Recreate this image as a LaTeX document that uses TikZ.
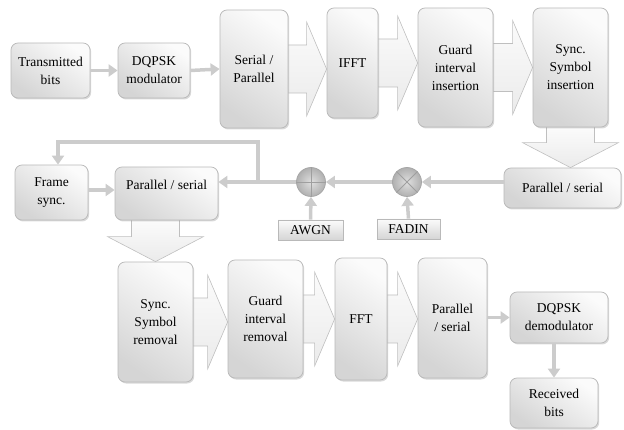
\documentclass[tikz,border=0pt]{standalone}
\usepackage{fontspec}
\setmainfont{Liberation Serif}
\usepackage{tikz}
\usetikzlibrary{calc}
\usetikzlibrary{shadows}
\usetikzlibrary{arrows.meta}
\usetikzlibrary{backgrounds}
\tikzset{every picture/.style={line width=0.75pt}}
\tikzset{
  blk/.style={draw=gray!55, rounded corners=7pt, top color=gray!3, bottom color=gray!33, shading angle=-35,
    drop shadow={opacity=0.3, shadow xshift=1.2pt, shadow yshift=-1.5pt},
    align=center, inner sep=1pt, font=\fontsize{13.5}{18}\selectfont},
  tag/.style={blk, rounded corners=0pt, shading angle=0},
  mixer/.style={circle, draw=gray!70, shading=radial, inner color=gray!25, outer color=gray!62, minimum size=29pt, inner sep=0pt},
  thinarr/.style={draw=gray!40, line width=3.5pt, -{Triangle[width=12pt,length=9pt]}},
  fatarr/.style={draw=gray!50, line width=0.6pt, top color=gray!3, bottom color=gray!16},
}
% big hollow arrows, right and down
\newcommand{\fatR}[2]{%
  \path[fatarr] let \p1=(#1), \p2=(#2) in
    (\x1,\y1+24pt) -- (\x2-20pt,\y1+24pt) -- (\x2-20pt,\y1+47pt) -- (\x2,\y1)
    -- (\x2-20pt,\y1-47pt) -- (\x2-20pt,\y1-24pt) -- (\x1,\y1-24pt) ;}
\newcommand{\fatD}[2]{%
  \path[fatarr] let \p1=(#1), \p2=(#2) in
    (\x1-24pt,\y1) -- (\x1-24pt,\y2-25pt) -- (\x1-48pt,\y2-25pt) -- (\x1,\y2)
    -- (\x1+48pt,\y2-25pt) -- (\x1+24pt,\y2-25pt) -- (\x1+24pt,\y1) ;}

\begin{document}
\begin{tikzpicture}[x=1pt,y=1pt,yscale=-1,xscale=1]
\useasboundingbox (0,0) rectangle (624,430);

%Transmitter blocks
\node [blk, minimum width=79pt, minimum height=55pt] (tb) at (50.5,70.5) {Transmitted\\bits};
\node [blk, minimum width=72pt, minimum height=55pt] (mod) at (154,70.5) {DQPSK\\modulator};
\node [blk, minimum width=68pt, minimum height=118pt] (sp) at (254,69) {Serial /\\Parallel};
\node [blk, minimum width=51pt, minimum height=110pt] (ifft) at (352.5,63) {IFFT};
\node [blk, minimum width=75pt, minimum height=119pt] (gii) at (455.5,67.5) {Guard\\interval\\insertion};
\node [blk, minimum width=75pt, minimum height=119pt] (ssi) at (570.5,67.5) {Sync.\\Symbol\\insertion};

%Channel
\node [blk, minimum width=117pt, minimum height=40pt] (psr) at (562.5,188) {Parallel / serial};
\node [mixer] (mul) at (407,182) {};
\node [mixer] (add) at (311,182) {};
\node [tag, minimum width=63pt, minimum height=20pt] (fadin) at (408.5,229) {FADIN};
\node [tag, minimum width=65pt, minimum height=20pt] (awgn) at (310.5,230) {AWGN};
\draw [gray!75] (mul.north west) -- (mul.south east) (mul.north east) -- (mul.south west) ;
\draw [gray!75] (add.north) -- (add.south) (add.west) -- (add.east) ;

%Receiver blocks
\node [blk, minimum width=103pt, minimum height=53pt, text depth=18pt] (psl) at (166.5,193.5) {Parallel / serial};
\node [blk, minimum width=73pt, minimum height=55pt] (fs) at (51.5,192.5) {Frame\\sync.};
\node [blk, minimum width=75pt, minimum height=120pt] (ssr) at (155.5,322) {Sync.\\Symbol\\removal};
\node [blk, minimum width=75pt, minimum height=118pt] (gir) at (265.5,319) {Guard\\interval\\removal};
\node [blk, minimum width=52pt, minimum height=122pt] (fft) at (361,319) {FFT};
\node [blk, minimum width=69pt, minimum height=120pt] (psb) at (452.5,318) {Parallel\\/ serial};
\node [blk, minimum width=98pt, minimum height=51pt] (dem) at (559,317.5) {DQPSK\\demodulator};
\node [blk, minimum width=88pt, minimum height=50pt] (rb) at (554,403) {Received\\bits};

%Hollow arrows behind the blocks
\begin{scope}[on background layer]
\fatR{sp.east}{ifft.west}
\fatR{ifft.east}{gii.west}
\fatR{gii.east}{ssi.west}
\fatD{ssi.south}{ssi.south |- psr.north}
\fatD{ssr.north |- psl.south}{ssr.north}
\fatR{ssr.east}{gir.west}
\fatR{gir.east}{fft.west}
\fatR{fft.east}{psb.west}
\end{scope}

%Thin arrows
\coordinate (jn) at (258,182);
\coordinate (jt) at (258,142);
\draw [thinarr] (tb.east) -- (mod.west) ;
\draw [thinarr] (mod.east) -- (sp.west) ;
\draw [thinarr] (mul -| psr.west) -- (mul.east) ;
\draw [thinarr] (mul.west) -- (add.east) ;
\draw [thinarr] (add.west) -- (add -| psl.east) ;
\draw [thinarr] (fadin.north) -- (mul.south) ;
\draw [thinarr] (awgn.north) -- (add.south) ;
\draw [thinarr] (jn) -- (jt) -| ([xshift=6.5pt]fs.north) ;
\draw [thinarr] (fs.east |- 0,190) -- (psl.west |- 0,190) ;
\draw [thinarr] (psb.east |- dem) -- (dem.west) ;
\draw [thinarr] (dem.south -| rb) -- (rb.north) ;

\end{tikzpicture}
\end{document}
